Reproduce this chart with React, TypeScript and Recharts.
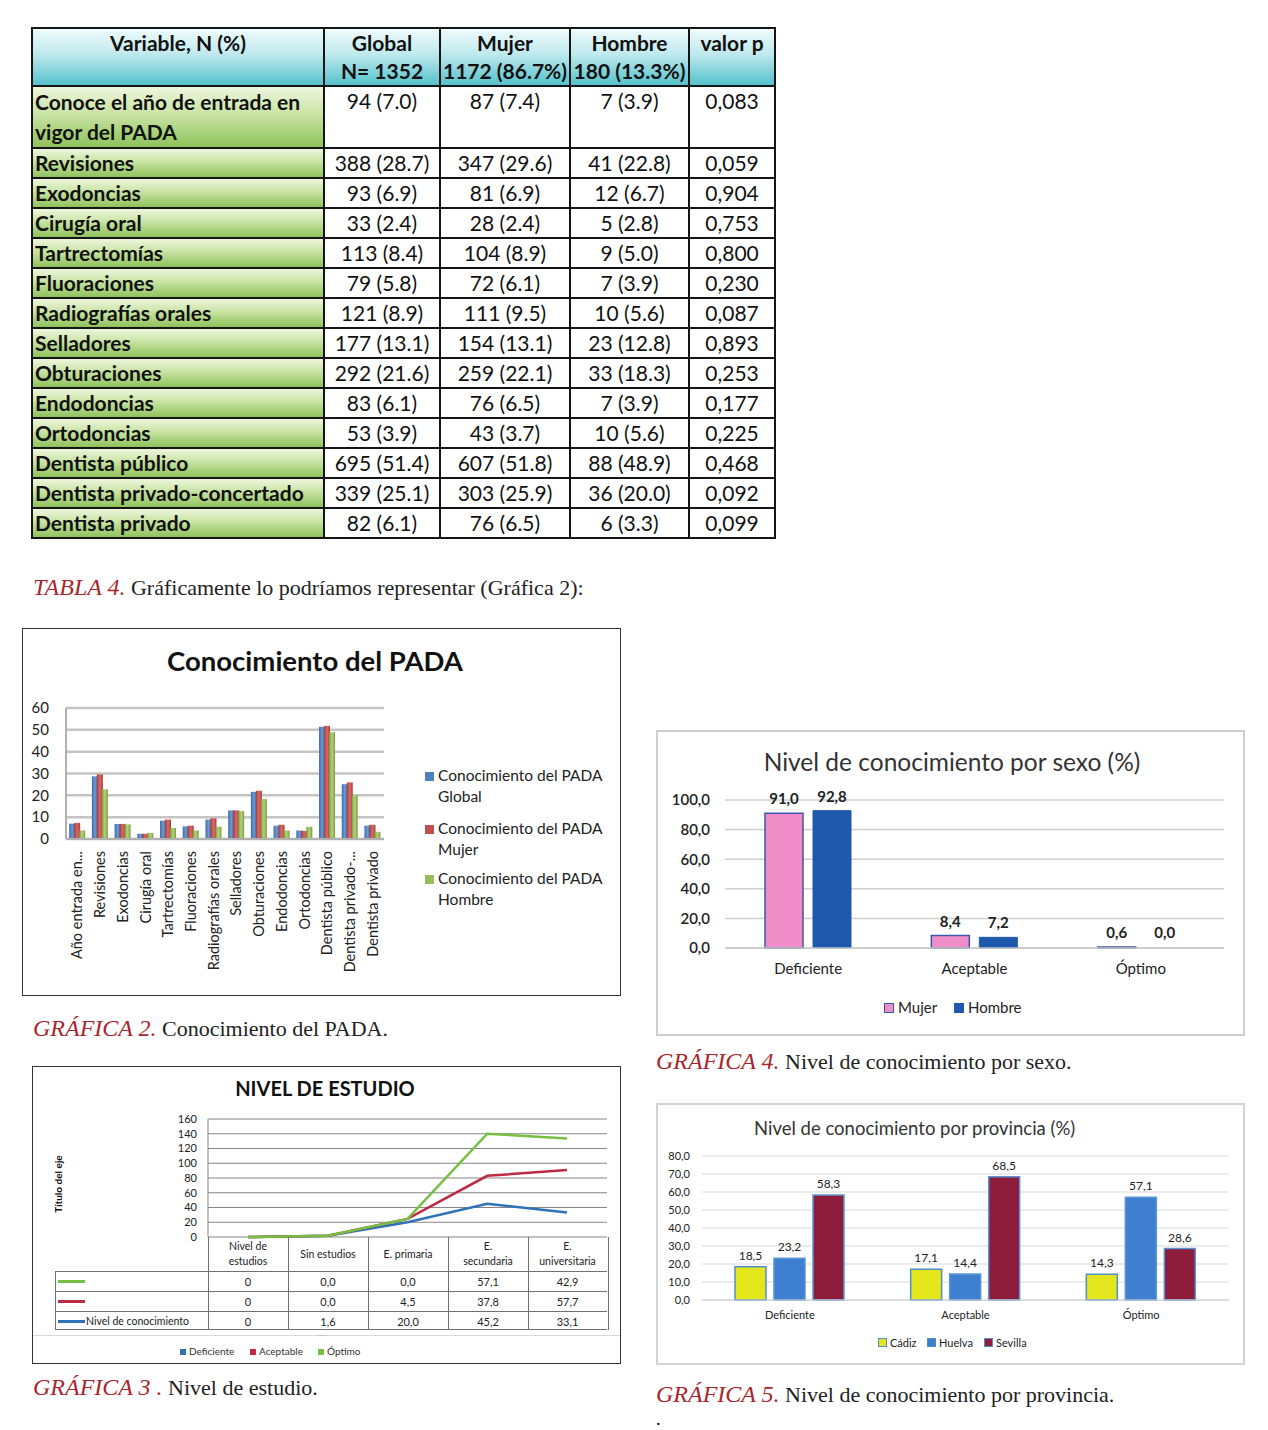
import React from 'react';
import {
  BarChart,
  Bar,
  Cell,
  XAxis,
  YAxis,
  CartesianGrid,
  LabelList,
  AreaChart,
  Area,
} from 'recharts';

// Tabla 4
const variables = [
  'Conoce el año de entrada en vigor del PADA',
  'Revisiones',
  'Exodoncias',
  'Cirugía oral',
  'Tartrectomías',
  'Fluoraciones',
  'Radiografías orales',
  'Selladores',
  'Obturaciones',
  'Endodoncias',
  'Ortodoncias',
  'Dentista público',
  'Dentista privado-concertado',
  'Dentista privado',
];
const shortLabels = [
  'Año entrada en...',
  'Revisiones',
  'Exodoncias',
  'Cirugía oral',
  'Tartrectomías',
  'Fluoraciones',
  'Radiografías orales',
  'Selladores',
  'Obturaciones',
  'Endodoncias',
  'Ortodoncias',
  'Dentista público',
  'Dentista privado-...',
  'Dentista privado',
];
const globalN = [94, 388, 93, 33, 113, 79, 121, 177, 292, 83, 53, 695, 339, 82];
const globalPct = [7.0, 28.7, 6.9, 2.4, 8.4, 5.8, 8.9, 13.1, 21.6, 6.1, 3.9, 51.4, 25.1, 6.1];
const mujerN = [87, 347, 81, 28, 104, 72, 111, 154, 259, 76, 43, 607, 303, 76];
const mujerPct = [7.4, 29.6, 6.9, 2.4, 8.9, 6.1, 9.5, 13.1, 22.1, 6.5, 3.7, 51.8, 25.9, 6.5];
const hombreN = [7, 41, 12, 5, 9, 7, 10, 23, 33, 7, 10, 88, 36, 6];
const hombrePct = [3.9, 22.8, 6.7, 2.8, 5.0, 3.9, 5.6, 12.8, 18.3, 3.9, 5.6, 48.9, 20.0, 3.3];
const pValues = ['0,083', '0,059', '0,904', '0,753', '0,800', '0,230', '0,087', '0,893', '0,253', '0,177', '0,225', '0,468', '0,092', '0,099'];

// Gráfica 3
const estudios = ['Nivel de estudios', 'Sin estudios', 'E. primaria', 'E. secundaria', 'E. universitaria'];
const estDeficiente = [0, 1.6, 20.0, 45.2, 33.1];
const estAceptable = [0, 0.0, 4.5, 37.8, 57.7];
const estOptimo = [0, 0.0, 0.0, 57.1, 42.9];

// Gráfica 4
const niveles = ['Deficiente', 'Aceptable', 'Óptimo'];
const sexoMujer = [91.0, 8.4, 0.6];
const sexoHombre = [92.8, 7.2, 0.0];

// Gráfica 5
const provCadiz = [18.5, 17.1, 14.3];
const provHuelva = [23.2, 14.4, 57.1];
const provSevilla = [58.3, 68.5, 28.6];

const fmt = (v: number) => v.toFixed(1).replace('.', ',');
const SANS = 'Lato, "Open Sans", sans-serif';
const SERIF = '"Liberation Serif", "DejaVu Serif", serif';
const RED = '#a8262c';

const pada = shortLabels.map((name, i) => ({
  name,
  global: globalPct[i],
  mujer: mujerPct[i],
  hombre: hombrePct[i],
}));
const estudioData = estudios.map((nivel, i) => ({
  nivel,
  deficiente: estDeficiente[i],
  aceptable: estAceptable[i],
  optimo: estOptimo[i],
}));
const sexoData = niveles.map((nivel, i) => ({ nivel, mujer: sexoMujer[i], hombre: sexoHombre[i] }));
const provData = niveles.map((nivel, i) => ({
  nivel,
  cadiz: provCadiz[i],
  huelva: provHuelva[i],
  sevilla: provSevilla[i],
}));

function Caption({ x, y, label, text }: { x: number; y: number; label: string; text: string }) {
  return (
    <div style={{ position: 'absolute', left: x, top: y - 13, whiteSpace: 'nowrap', lineHeight: '26px' }}>
      <span style={{ fontFamily: SERIF, fontStyle: 'italic', color: RED, fontSize: 24 }}>{label}</span>
      <span style={{ fontFamily: SERIF, color: '#222', fontSize: 22 }}> {text}</span>
    </div>
  );
}

function DataTable() {
  const colW = [292, 116, 130, 119, 86];
  const border = '2px solid #151515';
  const head = 'linear-gradient(to bottom, #effbfc 0%, #bfe9ed 45%, #55c2cc 100%)';
  const green = 'linear-gradient(to bottom, #eef6de 0%, #c9e3a4 45%, #8fc35c 100%)';
  const cell: React.CSSProperties = { border, padding: '0 2px', textAlign: 'center', verticalAlign: 'top', whiteSpace: 'nowrap', overflow: 'hidden' };
  return (
    <table
      style={{
        position: 'absolute',
        left: 31,
        top: 27,
        borderCollapse: 'collapse',
        tableLayout: 'fixed',
        width: 743,
        fontFamily: SANS,
        fontSize: 21,
        color: '#111',
      }}
    >
      <colgroup>
        {colW.map((w, i) => (
          <col key={i} style={{ width: w }} />
        ))}
      </colgroup>
      <tbody>
        <tr style={{ height: 57 }}>
          {[
            ['Variable, N (%)', ''],
            ['Global', 'N= 1352'],
            ['Mujer', '1172 (86.7%)'],
            ['Hombre', '180 (13.3%)'],
            ['valor p', ''],
          ].map((h, i) => (
            <td key={i} style={{ ...cell, background: head, fontWeight: 700, lineHeight: '28px', padding: 0 }}>
              <div>{h[0]}</div>
              <div>{h[1] || '\u00a0'}</div>
            </td>
          ))}
        </tr>
        {variables.map((v, i) => (
          <tr key={v} style={{ height: i === 0 ? 62 : 30 }}>
            <td
              style={{
                ...cell,
                textAlign: 'left',
                background: green,
                fontWeight: 700,
                lineHeight: i === 0 ? '30px' : '27px',
                padding: '0 2px',
                whiteSpace: i === 0 ? 'normal' : 'nowrap',
              }}
            >
              {v}
            </td>
            <td style={{ ...cell, lineHeight: '27px' }}>{`${globalN[i]} (${globalPct[i].toFixed(1)})`}</td>
            <td style={{ ...cell, lineHeight: '27px' }}>{`${mujerN[i]} (${mujerPct[i].toFixed(1)})`}</td>
            <td style={{ ...cell, lineHeight: '27px' }}>{`${hombreN[i]} (${hombrePct[i].toFixed(1)})`}</td>
            <td style={{ ...cell, lineHeight: '27px' }}>{pValues[i]}</td>
          </tr>
        ))}
      </tbody>
    </table>
  );
}

const RotTick = ({ x, y, payload }: any) => (
  <text
    x={x}
    y={y}
    transform={`rotate(-90 ${x} ${y})`}
    textAnchor="end"
    dx={-4}
    dy={5}
    fontSize={14.5}
    fill="#222"
    fontFamily={SANS}
  >
    {payload.value}
  </text>
);

function PadaChart() {
  const legend = [
    { c: '#4f81bd', t: 'Global', y: 775 },
    { c: '#c0504d', t: 'Mujer', y: 828 },
    { c: '#9bbb59', t: 'Hombre', y: 878 },
  ];
  return (
    <div style={{ position: 'absolute', left: 22, top: 628, width: 597, height: 366, border: '1px solid #333', background: '#fff' }}>
      <div style={{ position: 'absolute', left: 0, width: 584, top: 15, textAlign: 'center', fontFamily: SANS, fontWeight: 700, fontSize: 27.5, color: '#111' }}>
        Conocimiento del PADA
      </div>
      <BarChart width={598} height={367} data={pada} margin={{ top: 79, right: 237, left: 0, bottom: 0 }} barCategoryGap="14%" barGap={-1}>
        <defs>
          <linearGradient id="gb" x1="0" x2="1" y1="0" y2="0">
            <stop offset="0" stopColor="#3d6aa6" />
            <stop offset="0.5" stopColor="#6b9ad6" />
            <stop offset="1" stopColor="#3d6aa6" />
          </linearGradient>
          <linearGradient id="gr" x1="0" x2="1" y1="0" y2="0">
            <stop offset="0" stopColor="#a43d3a" />
            <stop offset="0.5" stopColor="#db6a66" />
            <stop offset="1" stopColor="#a43d3a" />
          </linearGradient>
          <linearGradient id="gg" x1="0" x2="1" y1="0" y2="0">
            <stop offset="0" stopColor="#7e9c45" />
            <stop offset="0.5" stopColor="#b3d377" />
            <stop offset="1" stopColor="#7e9c45" />
          </linearGradient>
        </defs>
        <CartesianGrid vertical={false} stroke="#c4c4c4" strokeWidth={2.5} />
        <XAxis
          dataKey="name"
          interval={0}
          height={157}
          tick={<RotTick />}
          axisLine={{ stroke: '#b0b0b0', strokeWidth: 2 }}
          tickLine={false}
        />
        <YAxis
          width={43}
          domain={[0, 60]}
          ticks={[0, 10, 20, 30, 40, 50, 60]}
          interval={0}
          tickLine={false}
          tickMargin={11}
          axisLine={{ stroke: '#b0b0b0', strokeWidth: 2 }}
          tick={{ fontSize: 15, fill: '#222', fontFamily: SANS }}
        />
        <Bar dataKey="global" fill="url(#gb)" isAnimationActive={false} />
        <Bar dataKey="mujer" fill="url(#gr)" isAnimationActive={false} />
        <Bar dataKey="hombre" fill="url(#gg)" isAnimationActive={false} />
      </BarChart>
      {legend.map((l) => (
        <div key={l.t} style={{ position: 'absolute', left: 402, top: l.y - 628 - 11, fontFamily: SANS, fontSize: 15.5, color: '#222', lineHeight: '21px' }}>
          <span style={{ display: 'inline-block', width: 9, height: 9, background: l.c, marginRight: 4 }} />
          Conocimiento del PADA
          <div style={{ paddingLeft: 13 }}>{l.t}</div>
        </div>
      ))}
    </div>
  );
}

function EstudioChart() {
  const cols = [175, 255, 335, 415, 495, 574];
  const rows = [
    { color: '#77bf42', vals: estOptimo, label: '' },
    { color: '#be2a44', vals: estAceptable, label: '' },
    { color: '#2e72b8', vals: estDeficiente, label: 'Nivel de conocimiento' },
  ];
  const rowY = [204, 224, 244, 263];
  const line = '1px solid #707070';
  const txt: React.CSSProperties = { position: 'absolute', fontFamily: SANS, fontSize: 11, color: '#222', textAlign: 'center' };
  return (
    <div style={{ position: 'absolute', left: 32, top: 1066, width: 587, height: 296, border: '1px solid #333', background: '#fff' }}>
      <div style={{ position: 'absolute', left: 0, width: 588, top: 9, textAlign: 'center', fontFamily: SANS, fontWeight: 700, fontSize: 20, color: '#111', transform: 'translateX(-2px)' }}>
        NIVEL DE ESTUDIO
      </div>
      <div
        style={{
          position: 'absolute',
          left: 25,
          top: 111,
          transform: 'rotate(-90deg)',
          transformOrigin: 'center',
          width: 0,
          whiteSpace: 'nowrap',
          fontFamily: SANS,
          fontWeight: 700,
          fontSize: 10,
          color: '#111',
          display: 'flex',
          justifyContent: 'center',
        }}
      >
        Título del eje
      </div>
      <AreaChart width={588} height={180} data={estudioData} margin={{ top: 52, right: 14, left: 0, bottom: 10 }}>
        <CartesianGrid vertical={false} stroke="#858585" />
        <XAxis dataKey="nivel" hide padding={{ left: 40, right: 40 }} />
        <YAxis
          width={175}
          domain={[0, 160]}
          ticks={[0, 20, 40, 60, 80, 100, 120, 140, 160]}
          interval={0}
          tickLine={false}
          tickMargin={5}
          axisLine={{ stroke: '#858585' }}
          tick={{ fontSize: 11, fill: '#222', fontFamily: SANS }}
        />
        <Area type="linear" dataKey="deficiente" stackId="a" stroke="#2e72b8" strokeWidth={2.5} fill="none" fillOpacity={0} dot={false} isAnimationActive={false} />
        <Area type="linear" dataKey="aceptable" stackId="a" stroke="#be2a44" strokeWidth={2.5} fill="none" fillOpacity={0} dot={false} isAnimationActive={false} />
        <Area type="linear" dataKey="optimo" stackId="a" stroke="#77bf42" strokeWidth={2.5} fill="none" fillOpacity={0} dot={false} isAnimationActive={false} />
      </AreaChart>
      {/* data table under the plot */}
      <div style={{ position: 'absolute', left: 175, top: 170, width: 399, height: 93, borderLeft: line, borderRight: line }} />
      <div style={{ position: 'absolute', left: 22, top: 204, width: 552, height: 59, border: line, borderRight: 'none', boxSizing: 'border-box' }} />
      {cols.slice(1, -1).map((x) => (
        <div key={x} style={{ position: 'absolute', left: x, top: 170, width: 0, height: 93, borderLeft: line }} />
      ))}
      {rowY.slice(1, -1).map((y) => (
        <div key={y} style={{ position: 'absolute', left: 22, top: y, width: 552, height: 0, borderTop: line }} />
      ))}
      {estudios.map((e, i) => {
        const parts = e === 'Sin estudios' || e === 'E. primaria' ? [e] : e === 'Nivel de estudios' ? ['Nivel de', 'estudios'] : [e.split(' ')[0], e.split(' ')[1]];
        return (
          <div key={e} style={{ ...txt, left: cols[i], width: cols[i + 1] - cols[i], top: 170, height: 34, display: 'flex', flexDirection: 'column', justifyContent: 'center', lineHeight: '15px', fontSize: 10.5 }}>
            {parts.map((p) => (
              <div key={p}>{p}</div>
            ))}
          </div>
        );
      })}
      {rows.map((r, ri) => (
        <React.Fragment key={ri}>
          <div style={{ position: 'absolute', left: 25, top: rowY[ri] + 9, width: 27, height: 3, background: r.color }} />
          {r.label && (
            <div style={{ ...txt, left: 53, top: rowY[ri] + 2, textAlign: 'left', fontSize: 10.5, lineHeight: '16px' }}>{r.label}</div>
          )}
          {r.vals.map((v, i) => (
            <div key={i} style={{ ...txt, left: cols[i], width: cols[i + 1] - cols[i], top: rowY[ri] + 2, lineHeight: '17px' }}>
              {i === 0 ? String(v) : fmt(v)}
            </div>
          ))}
        </React.Fragment>
      ))}
      <div style={{ position: 'absolute', left: 0, top: 268, width: 587, height: 0, borderTop: '1px solid #d8d8d8' }} />
      <div style={{ position: 'absolute', left: 285, top: 261, fontSize: 8, color: '#aaa', fontFamily: SANS }}>....</div>
      {[
        { c: '#2e72b8', t: 'Deficiente', x: 147 },
        { c: '#be2a44', t: 'Aceptable', x: 217 },
        { c: '#77bf42', t: 'Óptimo', x: 285 },
      ].map((l) => (
        <div key={l.t} style={{ position: 'absolute', left: l.x, top: 278, fontFamily: SANS, fontSize: 10, color: '#333', whiteSpace: 'nowrap' }}>
          <span style={{ display: 'inline-block', width: 6, height: 6, background: l.c, marginRight: 3 }} />
          {l.t}
        </div>
      ))}
    </div>
  );
}

function SexoChart() {
  const lbl = { fontSize: 15, fontWeight: 700, fill: '#222', fontFamily: SANS };
  return (
    <div style={{ position: 'absolute', left: 656, top: 730, width: 585, height: 302, border: '2px solid #cfcfcf', background: '#fff' }}>
      <div style={{ position: 'absolute', left: 0, width: 588, top: 15, textAlign: 'center', fontFamily: SANS, fontSize: 24.5, color: '#333', whiteSpace: 'nowrap' }}>
        Nivel de conocimiento por sexo (%)
      </div>
      <BarChart width={587} height={260} data={sexoData} margin={{ top: 68, right: 21, left: 0, bottom: 0 }} barSize={38} barGap={10}>
        <CartesianGrid vertical={false} stroke="#d0d0d0" strokeWidth={1.5} />
        <XAxis
          dataKey="nivel"
          height={44}
          tickLine={false}
          tickMargin={9}
          axisLine={{ stroke: '#c8c8c8', strokeWidth: 1.5 }}
          tick={{ fontSize: 15, fill: '#222', fontFamily: SANS }}
        />
        <YAxis
          width={67}
          domain={[0, 100]}
          ticks={[0, 20, 40, 60, 80, 100]}
          interval={0}
          tickFormatter={fmt}
          tickLine={false}
          axisLine={false}
          tickMargin={9}
          tick={{ fontSize: 15, fill: '#222', fontFamily: SANS, fontWeight: 600 }}
        />
        <Bar dataKey="mujer" fill="#f08dc9" stroke="#3a58a8" strokeWidth={1.5} isAnimationActive={false}>
          <LabelList dataKey="mujer" position="top" offset={9} formatter={(v: any) => fmt(Number(v))} style={lbl} />
        </Bar>
        <Bar
          dataKey="hombre"
          fill="#1f59ad"
          stroke="#1f59ad"
          minPointSize={(v: any) => (Number(v) === 0 ? 1 : 0)}
          isAnimationActive={false}
        >
          {sexoHombre.map((v, i) => (
            <Cell key={i} fillOpacity={v === 0 ? 0 : 1} strokeOpacity={v === 0 ? 0 : 1} />
          ))}
          <LabelList dataKey="hombre" position="top" offset={9} formatter={(v: any) => fmt(Number(v))} style={lbl} />
        </Bar>
      </BarChart>
      {[
        { c: '#f08dc9', b: '#3a58a8', t: 'Mujer', x: 226 },
        { c: '#1f59ad', b: '#1f59ad', t: 'Hombre', x: 296 },
      ].map((l) => (
        <div key={l.t} style={{ position: 'absolute', left: l.x, top: 266, fontFamily: SANS, fontSize: 15, color: '#222', whiteSpace: 'nowrap' }}>
          <span style={{ display: 'inline-block', width: 8, height: 8, background: l.c, border: `1.5px solid ${l.b}`, marginRight: 4 }} />
          {l.t}
        </div>
      ))}
    </div>
  );
}

function ProvinciaChart() {
  const lbl = { fontSize: 12, fill: '#222', fontFamily: SANS };
  return (
    <div style={{ position: 'absolute', left: 656, top: 1103, width: 585, height: 258, border: '2px solid #d3d3d3', background: '#fff' }}>
      <div style={{ position: 'absolute', left: 96, top: 12, fontFamily: SANS, fontSize: 18.5, color: '#333', whiteSpace: 'nowrap' }}>
        Nivel de conocimiento por provincia (%)
      </div>
      <BarChart width={587} height={225} data={provData} margin={{ top: 51, right: 16, left: 0, bottom: 0 }} barSize={31} barGap={8}>
        <CartesianGrid vertical={false} stroke="#d9d9d9" />
        <XAxis
          dataKey="nivel"
          height={30}
          tickLine={false}
          tickMargin={5}
          axisLine={{ stroke: '#cfcfcf' }}
          tick={{ fontSize: 11, fill: '#222', fontFamily: SANS }}
        />
        <YAxis
          width={44}
          domain={[0, 80]}
          ticks={[0, 10, 20, 30, 40, 50, 60, 70, 80]}
          interval={0}
          tickFormatter={fmt}
          tickLine={false}
          axisLine={false}
          tickMargin={6}
          tick={{ fontSize: 11, fill: '#222', fontFamily: SANS }}
        />
        <Bar dataKey="cadiz" fill="#e4e61c" stroke="#4f8fc8" strokeWidth={1.5} isAnimationActive={false}>
          <LabelList dataKey="cadiz" position="top" offset={7} formatter={(v: any) => fmt(Number(v))} style={lbl} />
        </Bar>
        <Bar dataKey="huelva" fill="#3f7fcf" stroke="#5b95d6" strokeWidth={1.5} isAnimationActive={false}>
          <LabelList dataKey="huelva" position="top" offset={7} formatter={(v: any) => fmt(Number(v))} style={lbl} />
        </Bar>
        <Bar dataKey="sevilla" fill="#8e1c3b" stroke="#5b95d6" strokeWidth={1.5} isAnimationActive={false}>
          <LabelList dataKey="sevilla" position="top" offset={7} formatter={(v: any) => fmt(Number(v))} style={lbl} />
        </Bar>
      </BarChart>
      {[
        { c: '#e4e61c', t: 'Cádiz', x: 220 },
        { c: '#3f7fcf', t: 'Huelva', x: 269 },
        { c: '#8e1c3b', t: 'Sevilla', x: 326 },
      ].map((l) => (
        <div key={l.t} style={{ position: 'absolute', left: l.x, top: 231, fontFamily: SANS, fontSize: 11, color: '#222', whiteSpace: 'nowrap' }}>
          <span style={{ display: 'inline-block', width: 7, height: 7, background: l.c, border: '1px solid #4f8fc8', marginRight: 3 }} />
          {l.t}
        </div>
      ))}
    </div>
  );
}

export default function App() {
  return (
    <div style={{ position: 'absolute', left: 0, top: 0, width: 1268, height: 1430, background: '#fff', overflow: 'hidden' }}>
      <DataTable />
      <Caption x={33} y={587} label="TABLA 4." text="Gráficamente lo podríamos representar (Gráfica 2):" />
      <PadaChart />
      <Caption x={33} y={1028} label="GRÁFICA 2." text="Conocimiento del PADA." />
      <EstudioChart />
      <Caption x={33} y={1387} label="GRÁFICA 3 ." text="Nivel de estudio." />
      <SexoChart />
      <Caption x={656} y={1061} label="GRÁFICA 4." text="Nivel de conocimiento por sexo." />
      <ProvinciaChart />
      <Caption x={656} y={1394} label="GRÁFICA 5." text="Nivel de conocimiento por provincia." />
      <div style={{ position: 'absolute', left: 656, top: 1411, fontFamily: SERIF, fontSize: 18, lineHeight: '16px' }}>.</div>
    </div>
  );
}
